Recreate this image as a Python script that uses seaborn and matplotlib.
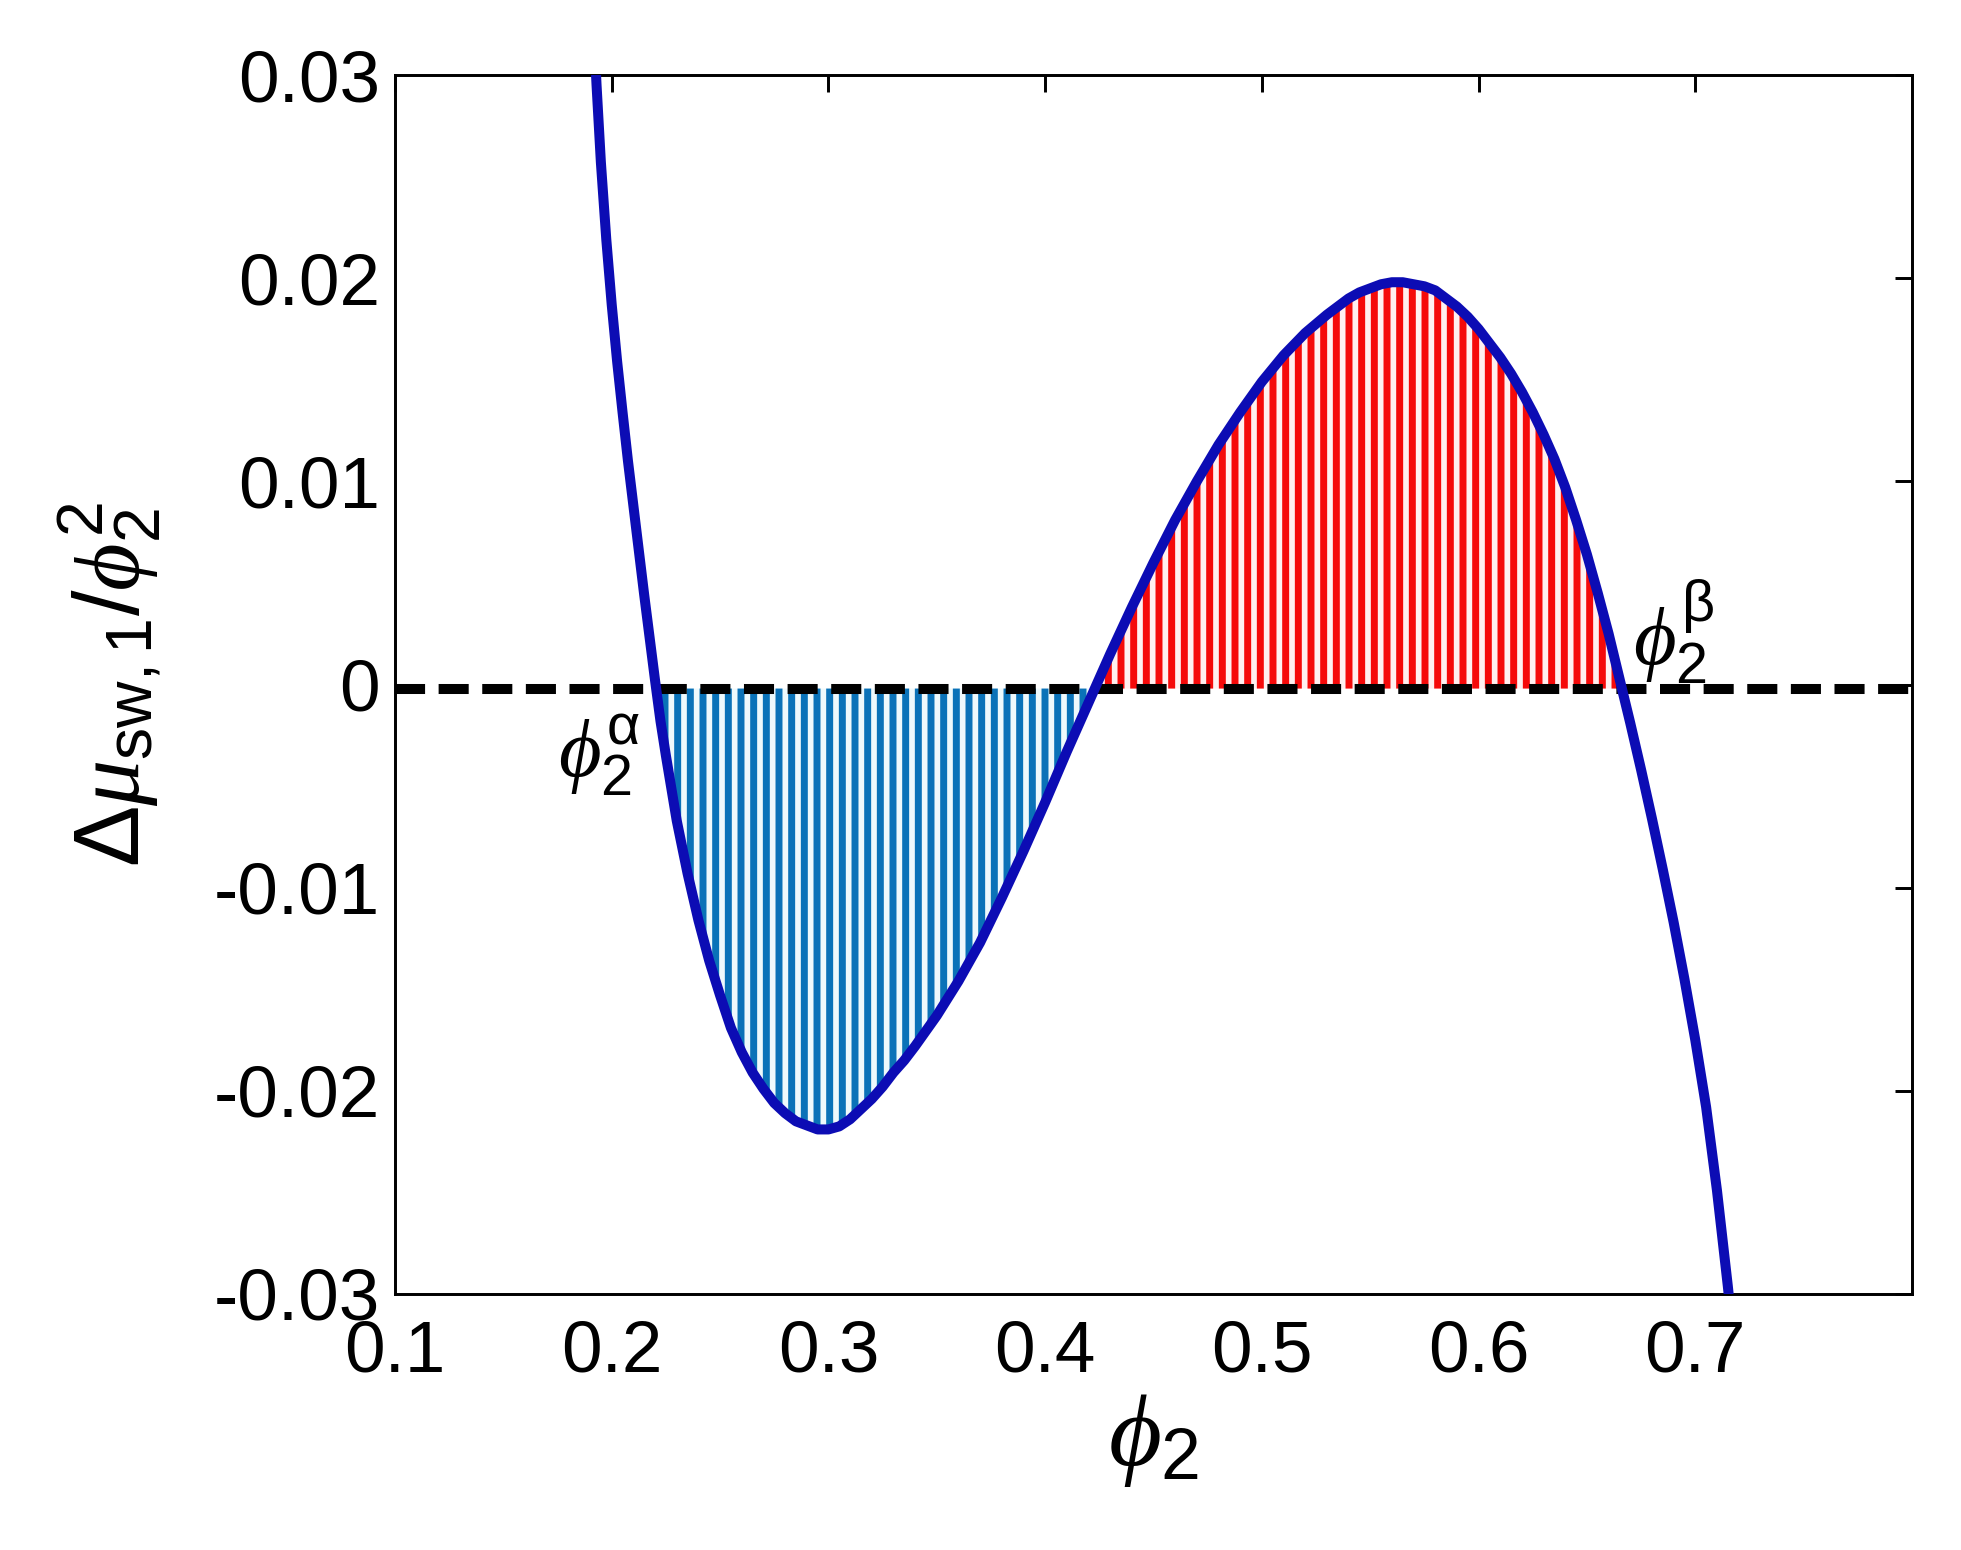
import matplotlib
matplotlib.use("Agg")
import pandas as pd
import matplotlib.pyplot as plt
import seaborn as sns

# --- values ---
phi2 = [0.191, 0.193, 0.195, 0.1975, 0.200, 0.2025, 0.205, 0.2075, 0.210, 0.2125,
        0.215, 0.2175, 0.220, 0.2225, 0.225, 0.230, 0.235, 0.240, 0.245, 0.250,
        0.255, 0.260, 0.265, 0.270, 0.275, 0.280, 0.285, 0.290, 0.295, 0.300,
        0.305, 0.310, 0.315, 0.320, 0.325, 0.330, 0.335, 0.340, 0.350, 0.360,
        0.370, 0.380, 0.390, 0.400, 0.410, 0.420, 0.430, 0.440, 0.450, 0.460,
        0.470, 0.480, 0.490, 0.500, 0.510, 0.520, 0.530, 0.535, 0.540, 0.545,
        0.550, 0.555, 0.560, 0.565, 0.570, 0.575, 0.580, 0.585, 0.590, 0.595,
        0.600, 0.605, 0.610, 0.615, 0.620, 0.625, 0.630, 0.635, 0.640, 0.645,
        0.650, 0.655, 0.660, 0.665, 0.670, 0.675, 0.680, 0.685, 0.690, 0.695,
        0.700, 0.705, 0.710, 0.715, 0.720]
dmu = [0.0339, 0.0295, 0.0257, 0.0219, 0.0187, 0.0159, 0.0134, 0.0110, 0.0088, 0.0066,
       0.0044, 0.0023, 0.0002, -0.0018, -0.0035, -0.0067, -0.0093, -0.0116, -0.0136, -0.0153,
       -0.0169, -0.0181, -0.0191, -0.0199, -0.0206, -0.0211, -0.0215, -0.0217, -0.0219, -0.0219,
       -0.02175, -0.0214, -0.0209, -0.0204, -0.0198, -0.0191, -0.0185, -0.0178, -0.0163, -0.0146,
       -0.0127, -0.0105, -0.0082, -0.0058, -0.0033, -0.0009, 0.0015, 0.0038, 0.0060, 0.0081,
       0.0100, 0.0118, 0.0134, 0.0149, 0.0162, 0.0173, 0.0182, 0.0186, 0.0190, 0.0193,
       0.0195, 0.0197, 0.0198, 0.0198, 0.0197, 0.0196, 0.0194, 0.0190, 0.0186, 0.0181,
       0.0175, 0.0168, 0.0161, 0.0153, 0.0144, 0.0134, 0.0123, 0.0111, 0.0097, 0.0081,
       0.0064, 0.0045, 0.0025, 0.0003, -0.0019, -0.0042, -0.0066, -0.0091, -0.0117, -0.0145,
       -0.0175, -0.0208, -0.0249, -0.0296, -0.0347]
base_level = -0.0002

x_ticks = [0.1, 0.2, 0.3, 0.4, 0.5, 0.6, 0.7]
x_tick_labels = ["0.1", "0.2", "0.3", "0.4", "0.5", "0.6", "0.7"]
y_ticks = [-0.03, -0.02, -0.01, 0.0, 0.01, 0.02, 0.03]
y_tick_labels = ["-0.03", "-0.02", "-0.01", "0", "0.01", "0.02", "0.03"]

alpha_label = (0.194, -0.0035)
beta_label = (0.690, 0.0026)

DPI = 76
sns.set_theme(style="white")
plt.rcParams["font.family"] = ["Liberation Sans", "DejaVu Sans"]
plt.rcParams["mathtext.fontset"] = "custom"
plt.rcParams["mathtext.rm"] = "Liberation Sans"
plt.rcParams["mathtext.sf"] = "Liberation Sans"
plt.rcParams["mathtext.it"] = "Liberation Serif:italic"
plt.rcParams["mathtext.fallback"] = "stix"
plt.rcParams["axes.unicode_minus"] = False
plt.rcParams["hatch.linewidth"] = 6.6

df = pd.DataFrame({"phi2": phi2, "dmu": dmu})
x = df["phi2"].to_numpy()
y = df["dmu"].to_numpy()

fig = plt.figure(figsize=(1962 / DPI, 1550 / DPI), dpi=DPI)
ax = fig.add_axes([395 / 1962, 256 / 1550, 1517 / 1962, 1219 / 1550])

# --- hatched equal-area regions ---
blue_mask = (x > 0.21) & (x < 0.43) & (y <= base_level)
red_mask = (x > 0.41) & (x < 0.68) & (y >= base_level)
ax.fill_between(x, y, base_level, where=blue_mask, interpolate=True,
                facecolor="#eef9fc", edgecolor="#0a72b8", hatch="|", linewidth=0, zorder=1)
ax.fill_between(x, y, base_level, where=red_mask, interpolate=True,
                facecolor="#fff0f0", edgecolor="#f50a0a", hatch="|", linewidth=0, zorder=1)

ax.axhline(base_level, color="black", lw=9.5, dashes=(3.0, 1.35), zorder=2)
sns.lineplot(data=df, x="phi2", y="dmu", ax=ax, color="#0c0cb4", lw=9.5,
             sort=False, zorder=3)
ax.lines[-1].set_solid_joinstyle("round")

ax.set_xlim(0.1, 0.8)
ax.set_ylim(-0.03, 0.03)
ax.set_xticks(x_ticks)
ax.set_xticklabels(x_tick_labels)
ax.set_yticks(y_ticks)
ax.set_yticklabels(y_tick_labels)

ax.tick_params(axis="both", direction="in", length=16, width=2.8, color="black",
               labelsize=69, labelcolor="black", top=True, right=True)
ax.tick_params(axis="x", pad=24)
ax.tick_params(axis="y", pad=14)
for sp in ax.spines.values():
    sp.set_linewidth(2.8)
    sp.set_color("black")

ax.set_xlabel(r"$\phi_2$", fontsize=97, color="black")
ax.xaxis.set_label_coords(0.5, -0.08)
ax.set_ylabel(r"$\Delta\mu_{\mathrm{sw,1}}/\phi_2^2$", fontsize=87, color="black")
ax.yaxis.set_label_coords(-0.153, 0.5)

ax.text(alpha_label[0], alpha_label[1], r"$\phi_2^{\mathrm{\alpha}}$", fontsize=78,
        ha="center", va="center", color="black", zorder=4)
ax.text(beta_label[0], beta_label[1], r"$\phi_2^{\mathrm{\beta}}$", fontsize=78,
        ha="center", va="center", color="black", zorder=4)

fig.savefig("out.png", dpi=DPI, facecolor="white")
